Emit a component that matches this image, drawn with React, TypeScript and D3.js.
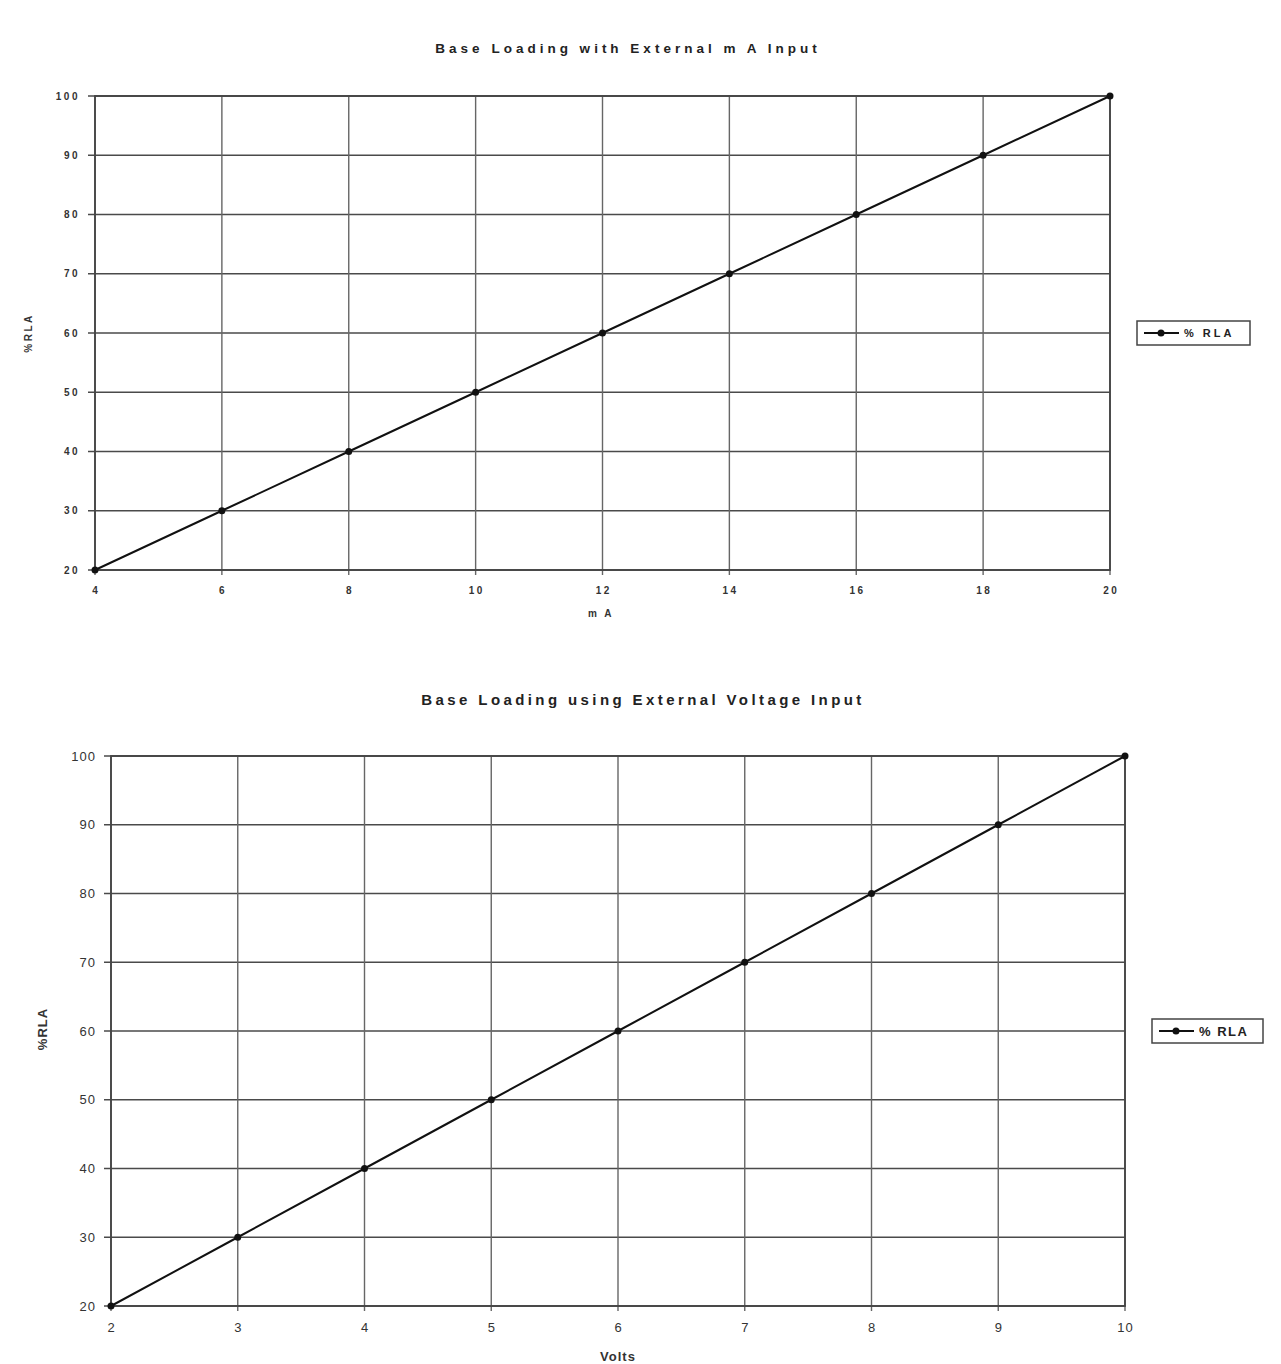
import React, { useRef, useEffect } from "react";
import * as d3 from "d3";

// top chart: mA input
const maValues = [4, 6, 8, 10, 12, 14, 16, 18, 20];
const maRla = [20, 30, 40, 50, 60, 70, 80, 90, 100];
// bottom chart: voltage input
const voltValues = [2, 3, 4, 5, 6, 7, 8, 9, 10];
const voltRla = [20, 30, 40, 50, 60, 70, 80, 90, 100];
const yTicks = [20, 30, 40, 50, 60, 70, 80, 90, 100];

type ChartCfg = {
  title: string;
  xTitle: string;
  xs: number[];
  ys: number[];
  x0: number;
  x1: number;
  y0: number;
  y1: number;
  left: number;
  right: number;
  top: number;
  bottom: number;
  titleY: number;
  titleX: number;
  xTitleY: number;
  xTitleX: number;
  yTitleX: number;
  yTitleY: number;
  legendX: number;
  legendY: number;
  legendW: number;
  bold: boolean;
  titleSize: number;
  titleSpacing: number;
  tickSize: number;
  tickSpacing: number;
  labelSize: number;
  labelSpacing: number;
  legendSize: number;
  legendSpacing: number;
};

const drawChart = (svg: any, c: ChartCfg) => {
  const x = d3.scaleLinear().domain([c.x0, c.x1]).range([c.left, c.right]);
  const y = d3.scaleLinear().domain([c.y0, c.y1]).range([c.bottom, c.top]);
  const g = svg.append("g");
  const font = "Liberation Sans, Arial, sans-serif";

  g.append("text")
    .attr("x", c.titleX)
    .attr("y", c.titleY)
    .attr("text-anchor", "middle")
    .attr("font-family", font)
    .attr("font-weight", "bold")
    .attr("font-size", c.titleSize)
    .attr("letter-spacing", c.titleSpacing)
    .attr("fill", "#222")
    .text(c.title);

  // grid
  g.selectAll(".hg")
    .data(yTicks)
    .enter()
    .append("line")
    .attr("x1", c.left - 7)
    .attr("x2", c.right)
    .attr("y1", (d) => y(d))
    .attr("y2", (d) => y(d))
    .attr("stroke", "#4a4a4a")
    .attr("stroke-width", 1.7);

  g.selectAll(".vg")
    .data(c.xs)
    .enter()
    .append("line")
    .attr("x1", (d) => x(d))
    .attr("x2", (d) => x(d))
    .attr("y1", c.top)
    .attr("y2", c.bottom + 5)
    .attr("stroke", "#666")
    .attr("stroke-width", 1.4);

  g.append("rect")
    .attr("x", c.left)
    .attr("y", c.top)
    .attr("width", c.right - c.left)
    .attr("height", c.bottom - c.top)
    .attr("fill", "none")
    .attr("stroke", "#444")
    .attr("stroke-width", 1.8);

  // tick labels
  g.selectAll(".yl")
    .data(yTicks)
    .enter()
    .append("text")
    .attr("x", c.left - 15)
    .attr("y", (d) => y(d) + c.tickSize * 0.36)
    .attr("text-anchor", "end")
    .attr("font-family", font)
    .attr("font-weight", c.bold ? "bold" : "normal")
    .attr("font-size", c.tickSize)
    .attr("letter-spacing", c.tickSpacing)
    .attr("fill", "#333")
    .text((d) => d);

  g.selectAll(".xl")
    .data(c.xs)
    .enter()
    .append("text")
    .attr("x", (d) => x(d) + c.tickSpacing / 2)
    .attr("y", c.bottom + (c.bold ? 24 : 26))
    .attr("text-anchor", "middle")
    .attr("font-family", font)
    .attr("font-weight", c.bold ? "bold" : "normal")
    .attr("font-size", c.tickSize)
    .attr("letter-spacing", c.tickSpacing)
    .attr("fill", "#333")
    .text((d) => d);

  g.append("text")
    .attr("x", c.xTitleX)
    .attr("y", c.xTitleY)
    .attr("text-anchor", "middle")
    .attr("font-family", font)
    .attr("font-weight", "bold")
    .attr("font-size", c.labelSize)
    .attr("letter-spacing", c.labelSpacing)
    .attr("fill", "#333")
    .text(c.xTitle);

  g.append("text")
    .attr("transform", `translate(${c.yTitleX},${c.yTitleY}) rotate(-90)`)
    .attr("text-anchor", "middle")
    .attr("font-family", font)
    .attr("font-weight", "bold")
    .attr("font-size", c.labelSize)
    .attr("letter-spacing", c.labelSpacing)
    .attr("fill", "#333")
    .text("%RLA");

  const pts = c.xs.map((v, i) => [v, c.ys[i]] as [number, number]);
  const line = d3
    .line<[number, number]>()
    .x((d) => x(d[0]))
    .y((d) => y(d[1]));

  g.append("path")
    .datum(pts)
    .attr("fill", "none")
    .attr("stroke", "#111")
    .attr("stroke-width", 2)
    .attr("d", line);

  g.selectAll(".pt")
    .data(pts)
    .enter()
    .append("circle")
    .attr("cx", (d) => x(d[0]))
    .attr("cy", (d) => y(d[1]))
    .attr("r", 3.5)
    .attr("fill", "#111");

  // legend
  const lg = g.append("g").attr("transform", `translate(${c.legendX},${c.legendY})`);
  lg.append("rect")
    .attr("width", c.legendW)
    .attr("height", 24)
    .attr("fill", "#fff")
    .attr("stroke", "#444")
    .attr("stroke-width", 1.5);
  lg.append("line")
    .attr("x1", 7)
    .attr("x2", 42)
    .attr("y1", 12)
    .attr("y2", 12)
    .attr("stroke", "#111")
    .attr("stroke-width", 2);
  lg.append("circle").attr("cx", 24).attr("cy", 12).attr("r", 3.5).attr("fill", "#111");
  lg.append("text")
    .attr("x", 47)
    .attr("y", 12 + c.legendSize * 0.36)
    .attr("font-family", font)
    .attr("font-weight", "bold")
    .attr("font-size", c.legendSize)
    .attr("letter-spacing", c.legendSpacing)
    .attr("fill", "#222")
    .text("% RLA");
};

const App = () => {
  const ref = useRef<SVGSVGElement | null>(null);

  useEffect(() => {
    if (!ref.current) return;
    const svg = d3.select(ref.current);
    svg.selectAll("*").remove();

    drawChart(svg, {
      title: "Base Loading with External m A Input",
      xTitle: "m A",
      xs: maValues,
      ys: maRla,
      x0: 4,
      x1: 20,
      y0: 20,
      y1: 100,
      left: 95,
      right: 1110,
      top: 96,
      bottom: 570,
      titleX: 628,
      titleY: 53,
      xTitleX: 601,
      xTitleY: 617,
      yTitleX: 32,
      yTitleY: 333,
      legendX: 1137,
      legendY: 321,
      legendW: 113,
      bold: true,
      titleSize: 13.5,
      titleSpacing: 4,
      tickSize: 10,
      tickSpacing: 2.5,
      labelSize: 10,
      labelSpacing: 2.5,
      legendSize: 11,
      legendSpacing: 3,
    });

    drawChart(svg, {
      title: "Base Loading using External Voltage Input",
      xTitle: "Volts",
      xs: voltValues,
      ys: voltRla,
      x0: 2,
      x1: 10,
      y0: 20,
      y1: 100,
      left: 111,
      right: 1125,
      top: 756,
      bottom: 1306,
      titleX: 643,
      titleY: 705,
      xTitleX: 618,
      xTitleY: 1361,
      yTitleX: 47,
      yTitleY: 1029,
      legendX: 1152,
      legendY: 1019,
      legendW: 111,
      bold: false,
      titleSize: 15,
      titleSpacing: 3.4,
      tickSize: 13,
      tickSpacing: 1,
      labelSize: 13,
      labelSpacing: 1,
      legendSize: 13,
      legendSpacing: 1.5,
    });
  }, []);

  return (
    <svg
      ref={ref}
      width={1281}
      height={1364}
      style={{ display: "block", position: "absolute", left: 0, top: 0, background: "#fff" }}
    />
  );
};

export default App;
